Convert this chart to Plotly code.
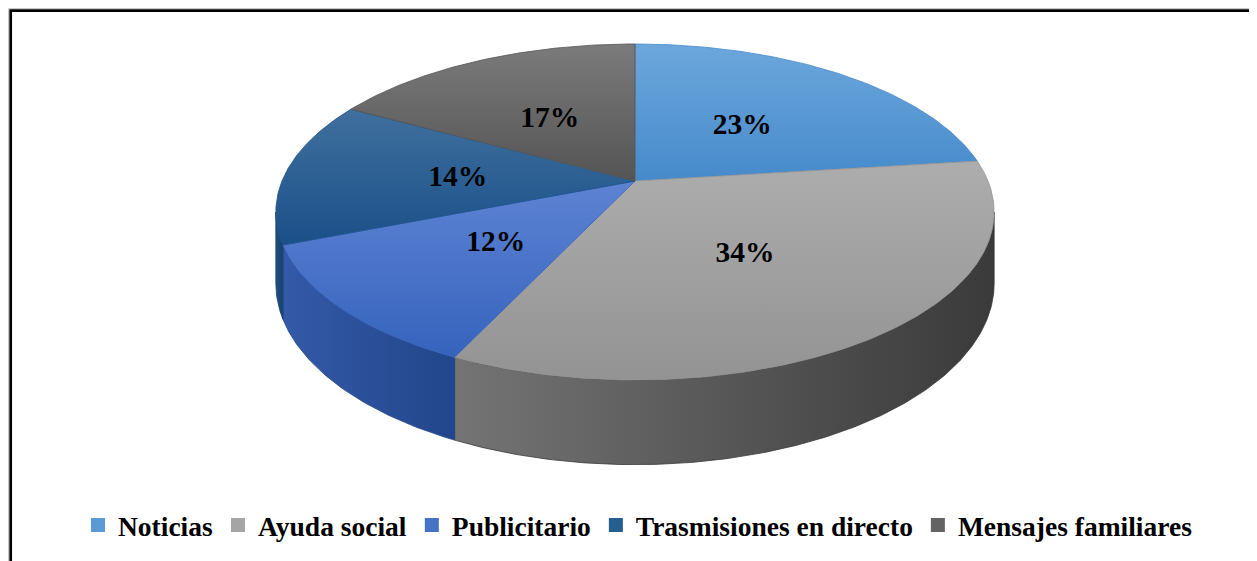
import numpy as np
import plotly.graph_objects as go

# ---------------- data ----------------
categories = ["Noticias", "Ayuda social", "Publicitario",
              "Trasmisiones en directo", "Mensajes familiares"]
values = [23, 34, 12, 14, 17]
labels = ["23%", "34%", "12%", "14%", "17%"]

# ---------------- style ----------------
legend_colors = ["#5b9bd5", "#a5a5a5", "#4472c4", "#255e91", "#636363"]
top_grad = [("#6ca7dc", "#468acb"), ("#adadad", "#939393"), ("#5d83d3", "#3663bd"),
            ("#3f709e", "#1b4f88"), ("#7b7b7b", "#545454")]
side_grad = [("#3f7cbb", "#2f66a3"), ("#747474", "#3a3a3a"), ("#3459a8", "#22468a"),
             ("#1f5284", "#173f68"), ("#4a4a4a", "#353535")]

W, H = 1257, 561
OFF = 8                    # page offset of the figure (body margin)
CX, CY = 635.0, 181.0      # projected centre of pie top (page px)
A, B = 353.0, 162.3        # horizontal / vertical scale of the disc
K = 0.1845                 # perspective factor
D = 69.0                   # thickness of the disc
FONT = "Times New Roman, Liberation Serif, serif"


def proj(X, Y, z=0.0):
    w = 1.0 + K * Y
    return CX + A * X / w, CY - B * Y / w + z * D / w


def arc(a0, a1, r=1.0, z=0.0, n=None):
    if n is None:
        n = max(int(abs(a1 - a0) * 1.5), 4)
    ang = np.radians(np.linspace(a0, a1, n))
    return proj(r * np.sin(ang), r * np.cos(ang), z)


total = float(sum(values))
bounds = np.concatenate([[0.0], np.cumsum(values) / total * 360.0])

fig = go.Figure()

# ---- side walls (front half only) ----
vis0 = np.degrees(np.arccos(-K))
vis1 = 360.0 - vis0
for i in range(len(values)):
    a0, a1 = max(bounds[i], vis0), min(bounds[i + 1], vis1)
    if a1 <= a0:
        continue
    tx, ty = arc(a0, a1, z=0.0)
    bx, by = arc(a0, a1, z=1.0)
    xs = np.concatenate([tx, bx[::-1], tx[:1]])
    ys = np.concatenate([ty, by[::-1], ty[:1]])
    fig.add_trace(go.Scatter(
        x=xs, y=ys, mode="lines", fill="toself",
        line=dict(width=0.8, color=side_grad[i][1]),
        fillgradient=dict(type="horizontal",
                          colorscale=[[0, side_grad[i][0]], [1, side_grad[i][1]]],
                          start=float(xs.min()), stop=float(xs.max())),
        showlegend=False, hoverinfo="skip"))

# ---- top surfaces ----
for i in range(len(values)):
    ax, ay = arc(bounds[i], bounds[i + 1])
    xs = np.concatenate([[CX], ax, [CX]])
    ys = np.concatenate([[CY], ay, [CY]])
    fig.add_trace(go.Scatter(
        x=xs, y=ys, mode="lines", fill="toself",
        line=dict(width=0.8, color=top_grad[i][1]),
        fillgradient=dict(type="vertical",
                          colorscale=[[0, top_grad[i][0]], [1, top_grad[i][1]]],
                          start=float(ys.min()), stop=float(ys.max())),
        showlegend=False, hoverinfo="skip"))

# ---- data labels ----
mids = (bounds[:-1] + bounds[1:]) / 2.0
lx, ly = proj(0.5 * np.sin(np.radians(mids)), 0.5 * np.cos(np.radians(mids)))
fig.add_trace(go.Scatter(
    x=lx - 2, y=ly + 3, mode="text", text=labels,
    textfont=dict(family=FONT, size=29.5, color="black", weight="bold"),
    showlegend=False, hoverinfo="skip"))

# ---- legend entries ----
for name, col in zip(categories, legend_colors):
    fig.add_trace(go.Scatter(
        x=[None], y=[None], mode="markers", name=name,
        marker=dict(symbol="square", size=14, color=col)))

fig.update_layout(
    width=W, height=H,
    margin=dict(l=0, r=0, t=0, b=0),
    paper_bgcolor="white", plot_bgcolor="white",
    xaxis=dict(range=[OFF, W + OFF], visible=False, fixedrange=True),
    yaxis=dict(range=[H + OFF, OFF], visible=False, fixedrange=True),
    legend=dict(orientation="h", x=(638 - OFF) / W, xanchor="center",
                y=1 - (525 - OFF) / H, yanchor="middle", itemwidth=30,
                font=dict(family=FONT, size=27.5, color="black", weight="bold"),
                bgcolor="rgba(0,0,0,0)"),
    shapes=[
        dict(type="rect", xref="paper", yref="paper",
             x0=(8.6 - OFF) / W, y0=-0.05, x1=1.05, y1=1 - (8.6 - OFF) / H,
             line=dict(color="#c0c0c0", width=1)),
        dict(type="rect", xref="paper", yref="paper",
             x0=(10.7 - OFF) / W, y0=-0.05, x1=1.05, y1=1 - (10.7 - OFF) / H,
             line=dict(color="black", width=2.7)),
    ],
)

fig.write_html("out.html")
